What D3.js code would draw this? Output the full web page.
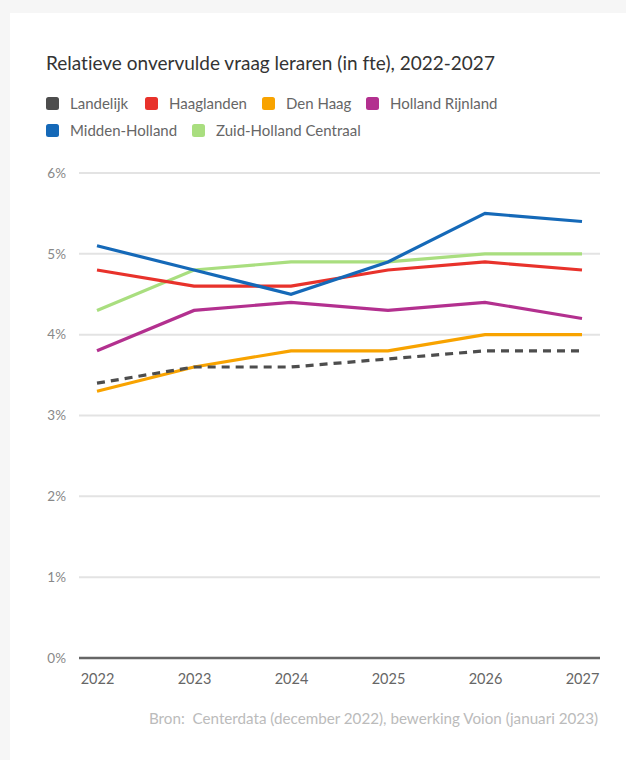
<!DOCTYPE html>
<html><head><meta charset="utf-8">
<script src="https://cdn.jsdelivr.net/npm/d3@7"></script>
<style>
html,body{margin:0;padding:0;background:#f6f6f6;}
svg{display:block;}
text{font-variant-ligatures:none;font-feature-settings:"liga" 0;}
</style></head>
<body>
<script>
const years = ["2022","2023","2024","2025","2026","2027"];
const seriesNames = ["Landelijk","Haaglanden","Den Haag","Holland Rijnland","Midden-Holland","Zuid-Holland Centraal"];
const seriesColors = ["#4d4d4d","#e8322b","#f8a300","#b3308f","#1569b8","#a9de7f"];
const landelijk = [3.4,3.6,3.6,3.7,3.8,3.8];
const haaglanden = [4.8,4.6,4.6,4.8,4.9,4.8];
const denHaag = [3.3,3.6,3.8,3.8,4.0,4.0];
const hollandRijnland = [3.8,4.3,4.4,4.3,4.4,4.2];
const middenHolland = [5.1,4.8,4.5,4.9,5.5,5.4];
const zuidHollandCentraal = [4.3,4.8,4.9,4.9,5.0,5.0];
const yTicks = [0,1,2,3,4,5,6];
const title = "Relatieve onvervulde vraag leraren (in fte), 2022-2027";
const source = "Bron:  Centerdata (december 2022), bewerking Voion (januari 2023)";

const seriesValues = [landelijk,haaglanden,denHaag,hollandRijnland,middenHolland,zuidHollandCentraal];
const W = 626, H = 760;
const ff = "Lato, sans-serif";
const svg = d3.select("body").append("svg").attr("width",W).attr("height",H);
svg.append("rect").attr("x",10).attr("y",13).attr("width",W-10).attr("height",H-13).attr("fill","#fff");

svg.append("text").attr("x",46).attr("y",70).attr("font-family",ff).attr("font-size",19)
  .attr("fill","#333").text(title);

// legend
const legendPos = [[46,104],[145,104],[262,104],[366,104],[46,131],[192,131]];
seriesNames.forEach((n,i)=>{
  const g = svg.append("g").attr("transform",`translate(${legendPos[i][0]},${legendPos[i][1]})`);
  g.append("rect").attr("x",0).attr("y",-7).attr("width",13).attr("height",13).attr("rx",2.5).attr("fill",seriesColors[i]);
  g.append("text").attr("x",24).attr("y",5).attr("font-family",ff).attr("font-size",15).attr("fill","#666").text(n);
});

const x = d3.scalePoint().domain(years).range([97,582]);
const y = d3.scaleLinear().domain([0,6]).range([658,173]);

// grid
const yAxis = d3.axisLeft(y).tickValues(yTicks).tickFormat(d=>d+"%").tickSize(0).tickPadding(12);
const yg = svg.append("g").attr("transform","translate(66,0)").call(yAxis);
yg.select(".domain").remove();
yg.selectAll("text").attr("font-family",ff).attr("font-size",13.5).attr("fill","#888").attr("x",0).attr("text-anchor","end");
svg.append("g").selectAll("line").data(yTicks.filter(d=>d>0)).join("line")
  .attr("x1",79).attr("x2",600).attr("y1",d=>y(d)).attr("y2",d=>y(d))
  .attr("stroke","#e3e3e3").attr("stroke-width",2);

// lines
const line = d3.line().x((d,i)=>x(years[i])).y(d=>y(d));
const order = [2,0,3,5,1,4];
order.forEach(i=>{
  svg.append("path").datum(seriesValues[i]).attr("d",line).attr("fill","none")
    .attr("stroke",seriesColors[i]).attr("stroke-width",3.2)
    .attr("stroke-dasharray", i===0 ? "8,6" : null);
});

// baseline
svg.append("line").attr("x1",79).attr("x2",600).attr("y1",y(0)).attr("y2",y(0)).attr("stroke","#666").attr("stroke-width",2.5);

const xAxis = d3.axisBottom(x).tickSize(0).tickPadding(16);
const xg = svg.append("g").attr("transform",`translate(0,${y(0)})`).call(xAxis);
xg.select(".domain").remove();
xg.selectAll("text").attr("font-family",ff).attr("font-size",14.5).attr("fill","#666");

svg.append("text").attr("x",598).attr("y",724).attr("text-anchor","end").attr("font-family",ff)
  .style("white-space","pre")
  .attr("font-size",15.2).attr("fill","#bbb").text(source);
</script>
</body></html>
